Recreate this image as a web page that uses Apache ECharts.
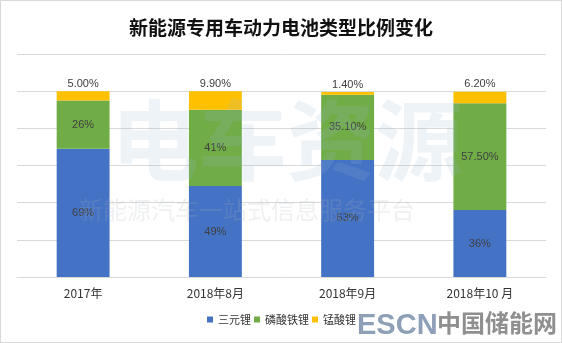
<!DOCTYPE html>
<html><head><meta charset="utf-8">
<script src="https://cdn.jsdelivr.net/npm/echarts@6/dist/echarts.min.js"></script>
<style>html,body{margin:0;padding:0;background:#fff}#c{width:562px;height:343px;box-sizing:border-box;border:1px solid #d9d9d9}</style>
</head><body><div id="c"></div>
<script>
const categories = ['2017年', '2018年8月', '2018年9月', '2018年10 月'];
const ternary = [69, 49, 63, 36];
const lfp = [26, 41, 35.10, 57.50];
const lmo = [5.00, 9.90, 1.40, 6.20];
const ternaryLabels = ['69%', '49%', '63%', '36%'];
const lfpLabels = ['26%', '41%', '35.10%', '57.50%'];
const lmoLabels = ['5.00%', '9.90%', '1.40%', '6.20%'];
const seriesNames = ['三元锂', '磷酸铁锂', '锰酸锂'];

const chart = echarts.init(document.getElementById('c'));
function mk(name, data, labels, color, pos) {
  return {
    name: name, type: 'bar', stack: 'a', barWidth: '40%', data: data,
    itemStyle: {color: color},
    label: {show: true, position: pos, distance: 2, color: '#404040', fontSize: 11,
      fontFamily: 'Liberation Sans, Arial, sans-serif',
      formatter: p => labels[p.dataIndex]}
  };
}
chart.setOption({
  animation: false,
  title: {text: '新能源专用车动力电池类型比例变化', left: 'center', top: 12,
    textStyle: {fontSize: 19, fontWeight: 'bold', color: '#111', fontFamily: 'Noto Sans CJK SC'}},
  grid: {left: 16, right: 15, top: 53, bottom: 65},
  legend: {data: seriesNames, bottom: 12, left: 201, itemWidth: 6, itemHeight: 6, itemGap: 3,
    icon: 'rect', textStyle: {fontSize: 11, color: '#333', fontFamily: 'Noto Sans CJK SC'}},
  xAxis: {type: 'category', data: categories,
    axisLine: {lineStyle: {color: '#d9d9d9'}}, axisTick: {show: false},
    axisLabel: {fontSize: 12, color: '#333', margin: 10, fontFamily: 'Noto Sans CJK SC'}},
  yAxis: {type: 'value', min: 0, max: 120, interval: 20, axisLabel: {show: false},
    axisLine: {show: false}, axisTick: {show: false},
    splitLine: {lineStyle: {color: '#d9d9d9'}}},
  graphic: [
    {type: 'text', left: 110, top: 95, z: 10, silent: true,
      style: {text: '电车资源', fontSize: 88, fontWeight: 'bold', fill: 'rgba(150,180,210,0.16)', fontFamily: 'Noto Sans CJK SC'}},
    {type: 'text', left: 78, top: 197, z: 10, silent: true,
      style: {text: '新能源汽车一站式信息服务平台', fontSize: 24, fill: 'rgba(170,180,190,0.2)', fontFamily: 'Noto Sans CJK SC'}},
    {type: 'text', left: 356, top: 310, z: 10, silent: true,
      style: {text: 'ESCN', fontSize: 29, fontWeight: 'bold', fill: '#8e9fb8', fontFamily: 'Liberation Sans'}},
    {type: 'text', left: 436, top: 310, z: 10, silent: true,
      style: {text: '中国储能网', fontSize: 24, fontWeight: 'bold', fill: '#8f8f8f', fontFamily: 'Noto Sans CJK SC'}}
  ],
  series: [
    mk(seriesNames[0], ternary, ternaryLabels, '#4472C4', 'inside'),
    mk(seriesNames[1], lfp, lfpLabels, '#70AD47', 'inside'),
    mk(seriesNames[2], lmo, lmoLabels, '#FFC000', 'top')
  ]
});
</script></body></html>
